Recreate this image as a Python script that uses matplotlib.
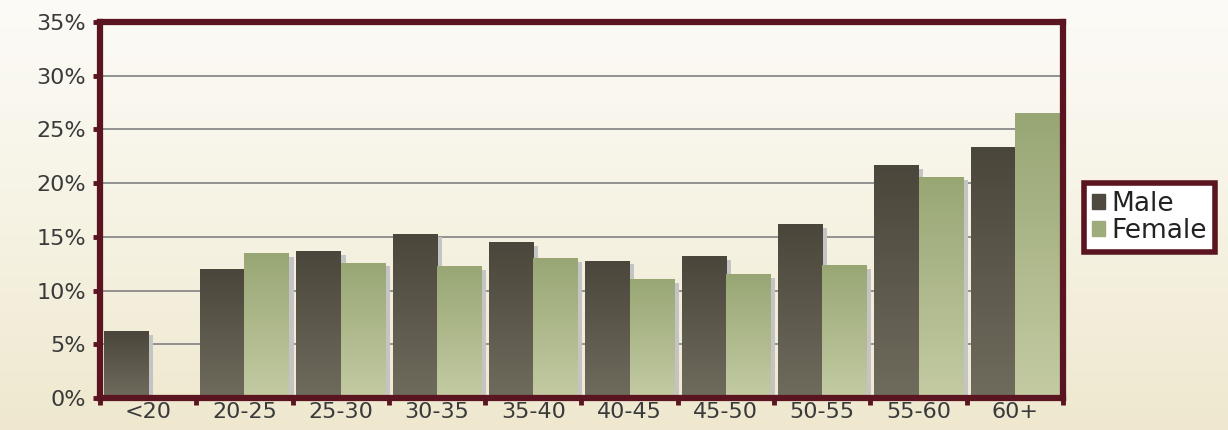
import matplotlib.pyplot as plt
import numpy as np
from matplotlib.colors import LinearSegmentedColormap
from matplotlib.ticker import FixedLocator

# Share of each age band, by gender (%)
age_groups = ['<20', '20-25', '25-30', '30-35', '35-40', '40-45', '45-50', '50-55', '55-60', '60+']
male = [6.2, 12.0, 13.7, 15.3, 14.5, 12.8, 13.2, 16.2, 21.7, 23.4]
female = [0.0, 13.5, 12.6, 12.3, 13.0, 11.1, 11.5, 12.4, 20.6, 26.5]
yticks = [0, 5, 10, 15, 20, 25, 30, 35]

maroon = '#5b1520'
text_color = '#3a3a3a'

fig = plt.figure(figsize=(12.28, 4.30), dpi=100)

# cream page background, lighter at the top
bg = fig.add_axes([0, 0, 1, 1], zorder=-10)
bg_cmap = LinearSegmentedColormap.from_list('bg', ['#fcfbf7', '#f6f3e4', '#efe8cf'])
bg.imshow(np.linspace(0, 1, 256).reshape(-1, 1), aspect='auto', cmap=bg_cmap,
          extent=[0, 1, 0, 1], origin='upper')
bg.set_axis_off()

ax = fig.add_axes([0.0814, 0.0744, 0.7842, 0.8744])
ax.set_facecolor('none')

male_cmap = LinearSegmentedColormap.from_list('male', ['#6f6b5d', '#4a463b'])
female_cmap = LinearSegmentedColormap.from_list('female', ['#c4cba3', '#98a674'])

x = np.arange(len(age_groups))
w = 0.46
grad = np.linspace(0, 1, 256).reshape(-1, 1)


def gradient_bars(xpos, vals, cmap, shift):
    # drop shadow to the right of each bar
    ax.bar(xpos + shift + 0.05, np.maximum(np.array(vals) - 0.35, 0), w, color='#c4c4c4',
           zorder=2, linewidth=0)
    bars = ax.bar(xpos + shift, vals, w, color='none', zorder=3, linewidth=0)
    for b in bars:
        if b.get_height() <= 0:
            continue
        x0, x1 = b.get_x(), b.get_x() + b.get_width()
        im = ax.imshow(grad, aspect='auto', cmap=cmap, origin='lower',
                       extent=[x0, x1, 0, b.get_height()], zorder=3)
        im.set_clip_path(b)
    return bars


gradient_bars(x, male, male_cmap, -w / 2)
gradient_bars(x, female, female_cmap, w / 2)

ax.set_xlim(-0.5, len(age_groups) - 0.5)
ax.set_ylim(0, 35)

ax.yaxis.grid(True, color='#8a8a8a', linewidth=1.3, zorder=1)
ax.set_axisbelow(True)

ax.set_yticks(yticks)
ax.set_yticklabels([f'{v}%' for v in yticks])
ax.set_xticks(x)
ax.set_xticklabels(age_groups)
ax.xaxis.set_minor_locator(FixedLocator(np.arange(-0.5, len(age_groups), 1.0)))

ax.tick_params(axis='y', colors=maroon, length=5, width=3.5, labelcolor=text_color,
               labelsize=16, pad=5)
ax.tick_params(axis='x', which='major', length=0, labelcolor=text_color, labelsize=16, pad=3)
ax.tick_params(axis='x', which='minor', colors=maroon, length=5, width=3.5)

for s in ax.spines.values():
    s.set_color(maroon)
    s.set_linewidth(4.5)
    s.set_zorder(5)

leg_handles = [plt.Rectangle((0, 0), 1, 1, color='#4e4a3f'),
               plt.Rectangle((0, 0), 1, 1, color='#9eab7b')]
leg = fig.legend(leg_handles, ['Male', 'Female'], loc='upper left',
                 bbox_to_anchor=(0.8825, 0.574), frameon=True, fancybox=False,
                 framealpha=1, fontsize=19, handlelength=0.5, handleheight=0.5,
                 handletextpad=0.25, borderpad=0.3, labelspacing=0.02, borderaxespad=0)
leg.get_frame().set_edgecolor(maroon)
leg.get_frame().set_linewidth(4)
leg.get_frame().set_facecolor('white')
for t in leg.get_texts():
    t.set_color('#222222')

fig.savefig('out.png', dpi=100)
